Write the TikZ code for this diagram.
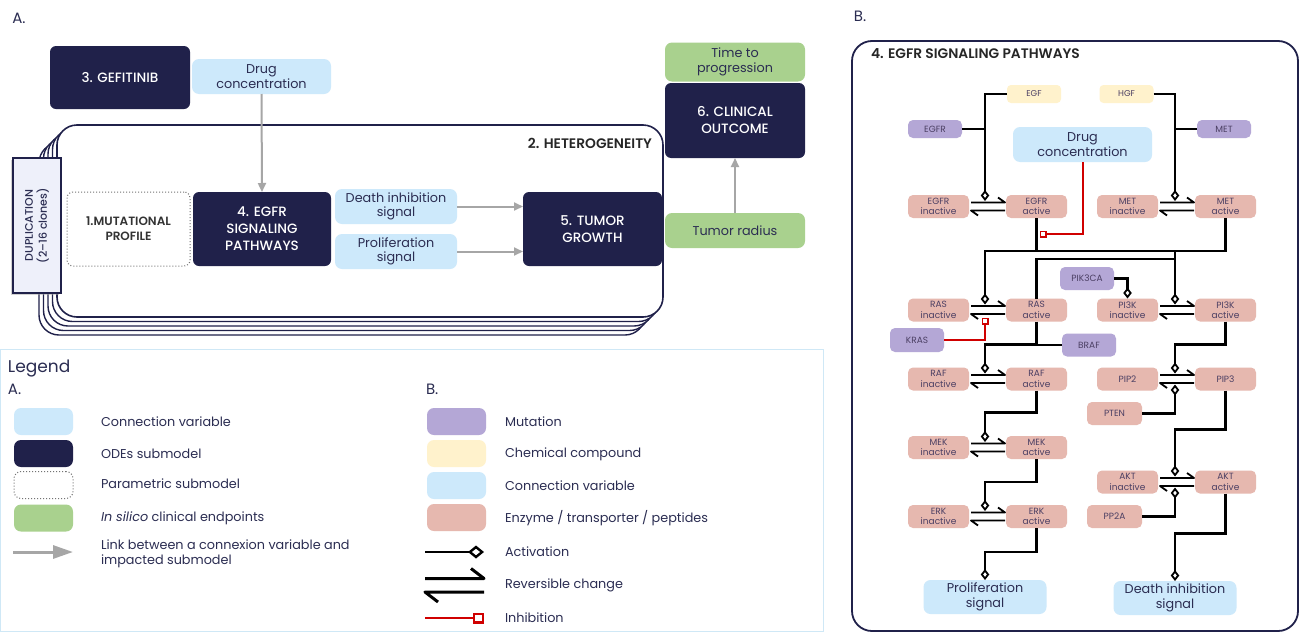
\documentclass[tikz,border=0pt]{standalone}
\usepackage{fontspec}
\setmainfont{Poppins}
\newfontfamily\medfont{Poppins Medium}
\newfontfamily\semifont{Poppins SemiBold}
\usetikzlibrary{arrows.meta,calc,shadows}
\definecolor{navy}{HTML}{20214A}
\definecolor{lblue}{HTML}{CDE9FB}
\definecolor{lgreen}{HTML}{A9D18E}
\definecolor{lpurple}{HTML}{B4A7D6}
\definecolor{lyellow}{HTML}{FFF2CC}
\definecolor{lpink}{HTML}{E6B8AF}
\definecolor{agray}{HTML}{A6A6A6}
\definecolor{ired}{HTML}{D00000}
\definecolor{txt}{HTML}{2B2D52}
\definecolor{ptxt}{HTML}{4B3F63}
\definecolor{legline}{HTML}{CFE8F6}
\definecolor{dupfill}{HTML}{EEF0FA}
\newcommand{\revch}[2]{%
  \draw[harp] ($(#1.east)+(2,-4)$) -- ($(#2.west)+(-1,-4)$) -- ++(-7,-5);
  \draw[harp] ($(#2.west)+(-1,4)$) -- ($(#1.east)+(2,4)$) -- ++(7,5);
}
\begin{document}
\begin{tikzpicture}[x=1pt,y=-1pt,
  every node/.style={inner sep=0pt, outer sep=0pt},
  navybox/.style={fill=navy, rounded corners=6pt, text=white, font=\medfont\fontsize{13.5}{17}\selectfont, align=center},
  conbox/.style={fill=lblue, rounded corners=7pt, text=txt, font=\fontsize{12.8}{14.5}\selectfont, align=center},
  endbox/.style={fill=lgreen, rounded corners=7pt, text=txt, font=\fontsize{12.8}{14.5}\selectfont, align=center},
  enz/.style={fill=lpink, rounded corners=5pt, text=ptxt, font=\fontsize{9}{10.5}\selectfont, align=center, minimum width=61pt, minimum height=23pt},
  mutb/.style={fill=lpurple, rounded corners=5pt, text=ptxt, font=\fontsize{9}{10}\selectfont, minimum width=54pt, minimum height=23pt},
  chem/.style={fill=lyellow, rounded corners=4pt, text=ptxt, font=\fontsize{8.5}{9}\selectfont, minimum width=54pt, minimum height=18pt},
  garrow/.style={draw=agray, line width=2pt, -{Triangle[length=9pt,width=8pt]}},
  act/.style={draw=black, line width=2.2pt, -{Diamond[open,length=11pt,width=8.5pt,line width=1.8pt]}},
  pline/.style={draw=black, line width=2.2pt},
  inh/.style={draw=ired, line width=2pt, -{Square[open,length=7pt,width=7pt,line width=1.6pt]}},
  harp/.style={draw=black, line width=1.8pt, line join=round},
  legtext/.style={anchor=west, text=txt, font=\fontsize{12.8}{14.5}\selectfont, align=left},
  swatch/.style={rounded corners=7pt, minimum width=59pt, minimum height=27pt},
  heading/.style={text=txt, font=\fontsize{15}{17}\selectfont},
]
\fill[white] (0,0) rectangle (1303,632);
\useasboundingbox (0,0) rectangle (1303,632);

% ---------------- Panel A ----------------
\node[heading] (labA) at (19,18) {A.};

\foreach \i in {4,3,2,1} {
  \draw[navy, line width=1.4pt, fill=white, rounded corners=20pt]
    ({57-4.5*\i},{125+4.5*\i}) rectangle ({663-4.5*\i},{317+4.5*\i});
}
\draw[navy, line width=1.6pt, fill=white, rounded corners=20pt] (57,125) rectangle (663,317);
\node[anchor=east, text=black!85, font=\semifont\fontsize{13.8}{15}\selectfont] (het) at (652,143) {2. HETEROGENEITY};

\node[draw=navy, line width=1.4pt, fill=dupfill, minimum width=48pt, minimum height=135pt,
      drop shadow={shadow xshift=-2pt, shadow yshift=-2pt, fill=black!35, opacity=0.5}] (dup) at (37,225.5) {};
\node[rotate=90, text=txt, font=\medfont\fontsize{11}{14}\selectfont, align=center] (dupt) at (dup.center) {DUPLICATION\\(2–16 clones)};

\node[navybox, minimum width=140pt, minimum height=63pt] (gef) at (120,77.5) {3. GEFITINIB};
\node[conbox, minimum width=139pt, minimum height=35pt] (drugA) at (261.5,76.5) {Drug\\concentration};

\node[draw=black!55, dotted, line width=1pt, rounded corners=6pt, minimum width=123pt, minimum height=74pt,
      text=black!80, font=\semifont\fontsize{12}{15}\selectfont, align=center] (mut) at (128.5,229) {1.MUTATIONAL\\PROFILE};
\node[navybox, minimum width=138pt, minimum height=74pt] (egfrA) at (262,229) {4. EGFR\\SIGNALING\\PATHWAYS};
\node[conbox, minimum width=122pt, minimum height=35pt] (deathA) at (396,206.5) {Death inhibition\\signal};
\node[conbox, minimum width=122pt, minimum height=35pt] (prolA) at (396,251.5) {Proliferation\\signal};
\node[navybox, minimum width=139pt, minimum height=74pt] (tumor) at (592.5,229) {5. TUMOR\\GROWTH};

\node[endbox, minimum width=140pt, minimum height=39pt] (ttp) at (735,62) {Time to\\progression};
\node[navybox, minimum width=140pt, minimum height=75pt] (clin) at (735,120.5) {6. CLINICAL\\OUTCOME};
\node[endbox, minimum width=140pt, minimum height=35pt] (tumrad) at (735,230.5) {Tumor radius};

\draw[garrow] (drugA.south) -- (egfrA.north);
\draw[garrow] (deathA.east) -- (deathA.east -| tumor.west);
\draw[garrow] (prolA.east) -- (prolA.east -| tumor.west);
\draw[garrow] (tumrad.north) -- (clin.south);

% ---------------- Legend ----------------
\draw[legline, line width=0.8pt] (0.5,349.5) rectangle (823,631.5);
\node[anchor=west, text=txt, font=\fontsize{17}{20}\selectfont] (legt) at (8,368) {Legend};
\node[anchor=west, heading] (legA) at (8,389) {A.};
\node[anchor=west, heading] (legB) at (426,389) {B.};

\node[swatch, fill=lblue] (sa1) at (43.5,421.5) {};
\node[swatch, fill=navy] (sa2) at (43.5,453.5) {};
\node[swatch, draw=black!55, dotted, line width=1pt] (sa3) at (43.5,485) {};
\node[swatch, fill=lgreen] (sa4) at (43.5,518) {};
\coordinate (la1) at (13,552);
\coordinate (la2) at (73,552);
\draw[draw=agray, line width=3pt, -{Triangle[length=20pt,width=13pt]}] (la1) -- (la2);

\node[legtext] (ta1) at (101,422) {Connection variable};
\node[legtext] (ta2) at (101,454) {ODEs submodel};
\node[legtext] (ta3) at (101,484) {Parametric submodel};
\node[legtext] (ta4) at (101,518) {{\itshape In silico} clinical endpoints};
\node[legtext] (ta5) at (101,554) {Link between a connexion variable and\\impacted submodel};

\node[swatch, fill=lpurple] (sb1) at (456.5,421.5) {};
\node[swatch, fill=lyellow] (sb2) at (456.5,453.5) {};
\node[swatch, fill=lblue] (sb3) at (456.5,485.5) {};
\node[swatch, fill=lpink] (sb4) at (456.5,517.5) {};
\coordinate (lb1) at (425,552);
\coordinate (lb2) at (484,552);
\draw[draw=black, line width=2.8pt, -{Diamond[open,length=16pt,width=13pt,line width=2.4pt]}] (lb1) -- (lb2);
\coordinate (lr1) at (425,578.5);
\coordinate (lr2) at (484,578.5);
\coordinate (lr3) at (425,592);
\coordinate (lr4) at (484,592);
\draw[black, line width=3pt, line join=round] (lr1) -- (lr2) -- ++(-13,-10);
\draw[black, line width=3pt, line join=round] (lr4) -- (lr3) -- ++(13,10);
\coordinate (li1) at (425,618);
\coordinate (li2) at (484,618);
\draw[draw=ired, line width=2.6pt, -{Square[open,length=11pt,width=11pt,line width=2.2pt]}] (li1) -- (li2);

\node[legtext] (tb1) at (505,422) {Mutation};
\node[legtext] (tb2) at (505,454) {Chemical compound};
\node[legtext] (tb3) at (505,486) {Connection variable};
\node[legtext] (tb4) at (505,518) {Enzyme / transporter / peptides};
\node[legtext] (tb5) at (505,552) {Activation};
\node[legtext] (tb6) at (505,585) {Reversible change};
\node[legtext] (tb7) at (505,618) {Inhibition};

% ---------------- Panel B ----------------
\node[heading] (labB) at (860,16) {B.};
\draw[navy, line width=1.8pt, rounded corners=20pt] (852,41) rectangle (1298,631);
\node[anchor=west, text=black!85, font=\semifont\fontsize{13.8}{15}\selectfont] (titB) at (871,54) {4. EGFR SIGNALING PATHWAYS};

\node[chem] (egf) at (1034,94) {EGF};
\node[chem] (hgf) at (1126.5,94) {HGF};
\node[mutb, minimum height=18pt] (egfrm) at (935,129) {EGFR};
\node[mutb, minimum height=18pt] (metm) at (1224,129) {MET};
\node[conbox, minimum width=139pt, minimum height=35pt] (drugB) at (1082.5,144.5) {Drug\\concentration};

\node[enz] (egfri) at (938.5,206.5) {EGFR\\inactive};
\node[enz] (egfra) at (1036.5,206.5) {EGFR\\active};
\node[enz] (meti) at (1127.5,206.5) {MET\\inactive};
\node[enz] (meta) at (1225.5,206.5) {MET\\active};
\node[enz] (rasi) at (938.5,310) {RAS\\inactive};
\node[enz] (rasa) at (1036.5,310) {RAS\\active};
\node[enz] (pi3ki) at (1127.5,310) {PI3K\\inactive};
\node[enz] (pi3ka) at (1225.5,310) {PI3K\\active};
\node[enz] (rafi) at (938.5,379) {RAF\\inactive};
\node[enz] (rafa) at (1036.5,379) {RAF\\active};
\node[enz] (pip2) at (1127.5,379) {PIP2};
\node[enz] (pip3) at (1225.5,379) {PIP3};
\node[enz] (meki) at (938.5,447.5) {MEK\\inactive};
\node[enz] (meka) at (1036.5,447.5) {MEK\\active};
\node[enz] (erki) at (938.5,516.5) {ERK\\inactive};
\node[enz] (erka) at (1036.5,516.5) {ERK\\active};
\node[enz] (akti) at (1127.5,482) {AKT\\inactive};
\node[enz] (akta) at (1225.5,482) {AKT\\active};

\node[mutb] (pik3ca) at (1087,278.5) {PIK3CA};
\node[mutb] (braf) at (1089,345) {BRAF};
\node[mutb, minimum height=24pt] (kras) at (917,340) {KRAS};
\node[enz, minimum width=55pt] (pten) at (1114.5,413.5) {PTEN};
\node[enz, minimum width=55pt] (pp2a) at (1114.5,516.5) {PP2A};

\node[conbox, minimum width=123pt, minimum height=34pt] (prolB) at (985,597) {Proliferation\\signal};
\node[conbox, minimum width=123pt, minimum height=34pt] (deathB) at (1175,598) {Death inhibition\\signal};

\revch{egfri}{egfra}
\revch{meti}{meta}
\revch{rasi}{rasa}
\revch{pi3ki}{pi3ka}
\revch{rafi}{rafa}
\revch{pip2}{pip3}
\revch{meki}{meka}
\revch{erki}{erka}
\revch{akti}{akta}

\coordinate (tEGFR) at (985,201);
\coordinate (tMET) at (1175,201);
\coordinate (tRAS) at (985,304.5);
\coordinate (tPI3K) at (1175,304.5);
\coordinate (tRAF) at (985,373.5);
\coordinate (tPIP) at (1175,373.5);
\coordinate (bPIP) at (1175,384.5);
\coordinate (tMEK) at (985,442);
\coordinate (tERK) at (985,511);
\coordinate (tAKT) at (1175,476.5);
\coordinate (bAKT) at (1175,487.5);
\coordinate (kT) at (985,317.5);
\coordinate (dT) at (1039.5,234);
\coordinate (j1) at (1036.5,251);
\coordinate (j2) at (1175,259);

\draw[act] (egf.west) -| (tEGFR);
\draw[pline] (egfrm.east) -- (egfrm.east -| tEGFR);
\draw[act] (hgf.east) -| (tMET);
\draw[pline] (metm.west) -- (metm.west -| tMET);

\draw[pline] (egfra.south) -- (j1);
\draw[act] (meta.south) |- (j1 -| tRAS) -- (tRAS);
\draw[act] (j1 -| tPI3K) -- (tPI3K);
\draw[pline] (rasa.north) |- (j2);
\draw[act] (pik3ca.east) -| (pi3ki.north);

\draw[act] (rasa.south) -- ++(0,23) -| (tRAF);
\draw[pline] (braf.west) -- (braf.west -| rasa.south);
\draw[act] (rafa.south) -- ++(0,22) -| (tMEK);
\draw[act] (meka.south) -- ++(0,23) -| (tERK);
\draw[act] (erka.south) -- ++(0,24) -| (prolB.north);

\draw[act] (pi3ka.south) -- ++(0,23) -| (tPIP);
\draw[act] (pten.east) -| (bPIP);
\draw[act] (pip3.south) -- ++(0,39) -| (tAKT);
\draw[act] (pp2a.east) -| (bAKT);
\draw[act] (akta.south) -- ++(0,40) -| (deathB.north);

\draw[inh] (drugB.south) |- (dT);
\draw[inh] (kras.east) -| (kT);
\end{tikzpicture}
\end{document}
